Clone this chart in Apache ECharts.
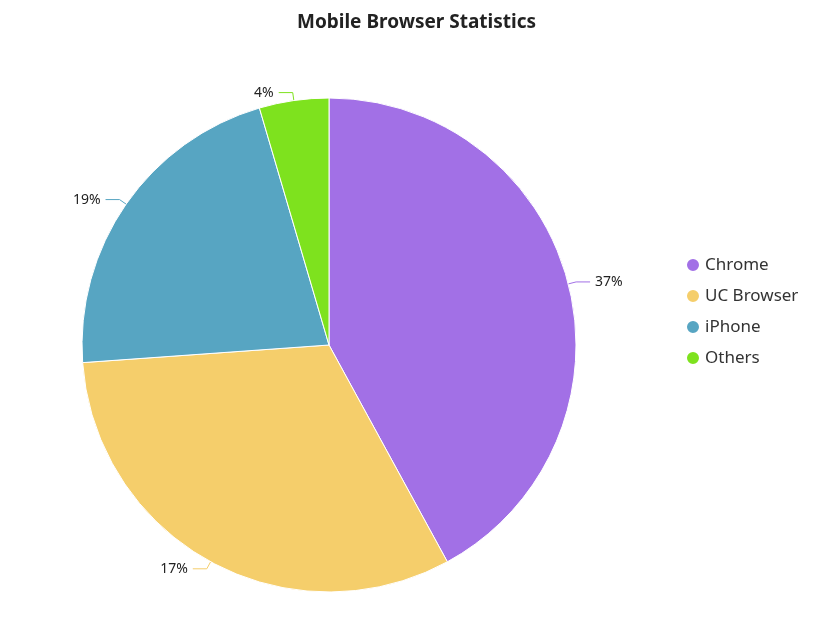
<!DOCTYPE html>
<html><head><meta charset="utf-8">
<script src="https://cdn.jsdelivr.net/npm/echarts@6/dist/echarts.min.js"></script>
<style>html,body{margin:0;padding:0;background:#fff}#c{width:833px;height:623px}</style>
</head><body><div id="c"></div>
<script>
const categories = ['Chrome', 'UC Browser', 'iPhone', 'Others'];
const values = [37, 28, 19, 4];
const labels = ['37%', '17%', '19%', '4%'];
const colors = ['#a270e6', '#f5ce6b', '#57a5c2', '#7ee21e'];

const chart = echarts.init(document.getElementById('c'));
chart.setOption({
  title: { text: 'Mobile Browser Statistics', left: 'center', top: 8,
    textStyle: { fontFamily: 'Noto Sans', fontSize: 19, fontWeight: 'bold', color: '#222' } },
  color: colors,
  legend: { orient: 'vertical', left: 680, top: 'middle', itemGap: 14, icon: 'circle',
    itemWidth: 14, itemHeight: 14,
    textStyle: { fontFamily: 'Noto Sans', fontSize: 17, color: '#333' },
    data: categories },
  series: [{
    type: 'pie', center: [329, 345], radius: 247, startAngle: 90, clockwise: true,
    data: categories.map((n, i) => ({ name: n, value: values[i] })),
    label: { show: true, formatter: p => labels[p.dataIndex], fontFamily: 'Noto Sans', fontSize: 14, color: '#222' },
    labelLine: { show: true, length: 8, length2: 14 },
    itemStyle: { borderColor: '#fff', borderWidth: 1 },
    emphasis: { disabled: true }
  }]
});
</script></body></html>
